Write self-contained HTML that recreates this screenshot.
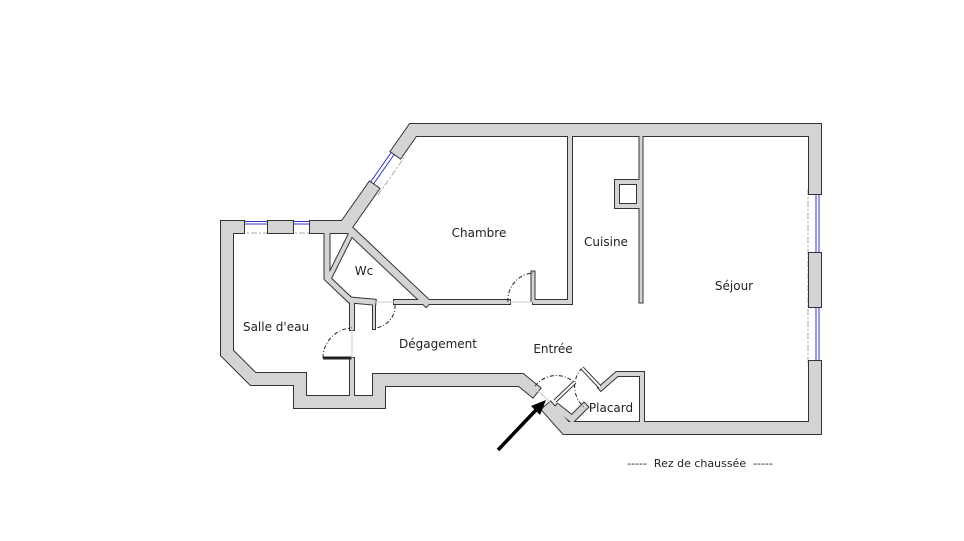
<!DOCTYPE html>
<html><head><meta charset="utf-8"><style>
html,body{margin:0;padding:0;background:#fff;}
svg{display:block;}
text{font-family:"DejaVu Sans","Liberation Sans",sans-serif;font-size:12px;fill:#222;}
</style></head><body>
<svg width="964" height="541" viewBox="0 0 964 541" xmlns="http://www.w3.org/2000/svg">
<!-- windows -->
<g fill="none">
<line x1="239" y1="221.5" x2="273" y2="221.5" stroke="#33c" stroke-width="1"/>
<line x1="239" y1="224" x2="273" y2="224" stroke="#33c" stroke-width="1"/>
<line x1="288" y1="221.5" x2="315" y2="221.5" stroke="#33c" stroke-width="1"/>
<line x1="288" y1="224" x2="315" y2="224" stroke="#33c" stroke-width="1"/>
<line x1="239" y1="233" x2="315" y2="233" stroke="#aaa" stroke-dasharray="6,2,2,2"/>
<line x1="367" y1="187" x2="395" y2="147" stroke="#33c"/>
<line x1="370" y1="189" x2="398" y2="149" stroke="#33c"/>
<line x1="378" y1="195" x2="406" y2="155" stroke="#aaa" stroke-dasharray="6,2,2,2"/>
<line x1="816" y1="189" x2="816" y2="258" stroke="#33c"/>
<line x1="819" y1="189" x2="819" y2="258" stroke="#33c"/>
<line x1="816" y1="302" x2="816" y2="366" stroke="#33c"/>
<line x1="819" y1="302" x2="819" y2="366" stroke="#33c"/>
<line x1="808" y1="189" x2="808" y2="366" stroke="#aaa" stroke-dasharray="6,2,2,2"/>
</g>
<g fill="none" stroke-linejoin="miter" stroke-linecap="square">
<g stroke="#333">
<polyline stroke-width="14" points="399,150 413,130 815,130 815,188"/>
<polyline stroke-width="14" points="815,259 815,301"/>
<polyline stroke-width="14" points="815,367 815,428 566,428 550,410"/>
<polyline stroke-width="14" points="532,389 521,380 379,380 379,402 300,402 300,379 253,379 227,353 227,227 238,227"/>
<polyline stroke-width="14" points="274,227 287,227"/>
<polyline stroke-width="14" points="316,227 345,227 371,190"/>
<polyline stroke-width="7" points="327,233 327,278 350,300 373,302"/>
<polyline stroke-width="9" points="352,232 426,302"/>
<line stroke-width="6" x1="350" y1="236" x2="330" y2="276"/>
<polyline stroke-width="6" points="396,302 508,302"/>
<polyline stroke-width="6" points="535,302 570,302 570,136"/>
<line stroke-width="5" x1="533" y1="273" x2="533" y2="300"/>
<line stroke-width="6" x1="352" y1="302" x2="352" y2="328"/>
<line stroke-width="4" x1="374" y1="305" x2="374" y2="328"/>
<line stroke-width="6" x1="352" y1="360" x2="352" y2="397"/>
<line stroke-width="5" x1="641" y1="136" x2="641" y2="301"/>
<rect x="617" y="182" width="22" height="24" stroke-width="6"/>
<polyline stroke-width="6" points="601,388 617,374 642,374 642,423"/>
<polyline stroke-width="8" points="558,408 572,419 584,407"/>
</g>
<g stroke="#d4d4d4">
<polyline stroke-width="12" points="399,150 413,130 815,130 815,188"/>
<polyline stroke-width="12" points="815,259 815,301"/>
<polyline stroke-width="12" points="815,367 815,428 566,428 550,410"/>
<polyline stroke-width="12" points="532,389 521,380 379,380 379,402 300,402 300,379 253,379 227,353 227,227 238,227"/>
<polyline stroke-width="12" points="274,227 287,227"/>
<polyline stroke-width="12" points="316,227 345,227 371,190"/>
<polyline stroke-width="5" points="327,233 327,278 350,300 373,302"/>
<polyline stroke-width="7" points="352,232 426,302"/>
<line stroke-width="4" x1="350" y1="236" x2="330" y2="276"/>
<polyline stroke-width="4" points="396,302 508,302"/>
<polyline stroke-width="4" points="535,302 570,302 570,136"/>
<line stroke-width="3" x1="533" y1="273" x2="533" y2="300"/>
<line stroke-width="4" x1="352" y1="302" x2="352" y2="328"/>
<line stroke-width="2" x1="374" y1="305" x2="374" y2="328"/>
<line stroke-width="4" x1="352" y1="360" x2="352" y2="397"/>
<line stroke-width="3" x1="641" y1="136" x2="641" y2="301"/>
<rect x="617" y="182" width="22" height="24" stroke-width="4"/>
<polyline stroke-width="4" points="601,388 617,374 642,374 642,423"/>
<polyline stroke-width="6" points="558,408 572,419 584,407"/>
</g>
<rect x="620" y="185" width="16" height="18" fill="#fff" stroke="none"/>
</g>
<g fill="none" stroke="#222" stroke-width="1">
<path d="M508,302 A27,27 0 0 1 533,273" stroke-dasharray="4,2,1,2"/>
<path d="M395,305 A22,22 0 0 1 375,328" stroke-dasharray="4,2,1,2"/>
<path d="M323,358 A30,30 0 0 1 352,328" stroke-dasharray="4,2,1,2"/>
<line x1="323" y1="358" x2="352" y2="358" stroke-width="3"/>
<path d="M535,386 A27,27 0 0 1 575,383" stroke-dasharray="4,2,1,2"/>
<path d="M582,368 A27,27 0 0 0 584,407" stroke-dasharray="4,2,1,2"/>
<line x1="555" y1="401" x2="575" y2="382" stroke-width="4" stroke="#333"/>
<line x1="555" y1="401" x2="575" y2="382" stroke-width="2" stroke="#fff"/>
<line x1="582" y1="368" x2="600" y2="387" stroke-width="4" stroke="#333"/>
<line x1="582" y1="368" x2="600" y2="387" stroke-width="2" stroke="#fff"/>
<line x1="508" y1="302" x2="535" y2="302" stroke="#ccc"/>
<line x1="373" y1="302" x2="396" y2="302" stroke="#ccc"/>
<line x1="352" y1="328" x2="352" y2="360" stroke="#ccc"/>
<line x1="535" y1="388" x2="552" y2="404" stroke="#ccc"/>
</g>
<line x1="498" y1="450" x2="536" y2="410" stroke="#000" stroke-width="3.5"/>
<polygon points="546,400 531,406 540,415" fill="#000"/>
<text x="479" y="237" text-anchor="middle">Chambre</text>
<text x="606" y="246" text-anchor="middle">Cuisine</text>
<text x="734" y="290" text-anchor="middle">Séjour</text>
<text x="364" y="275" text-anchor="middle">Wc</text>
<text x="276" y="331" text-anchor="middle">Salle d'eau</text>
<text x="438" y="348" text-anchor="middle">Dégagement</text>
<text x="553" y="353" text-anchor="middle">Entrée</text>
<text x="611" y="412" text-anchor="middle">Placard</text>
<text x="700" y="467" text-anchor="middle" style="font-size:11px">----- &#160;Rez de chaussée &#160;-----</text>
</svg>
</body></html>
